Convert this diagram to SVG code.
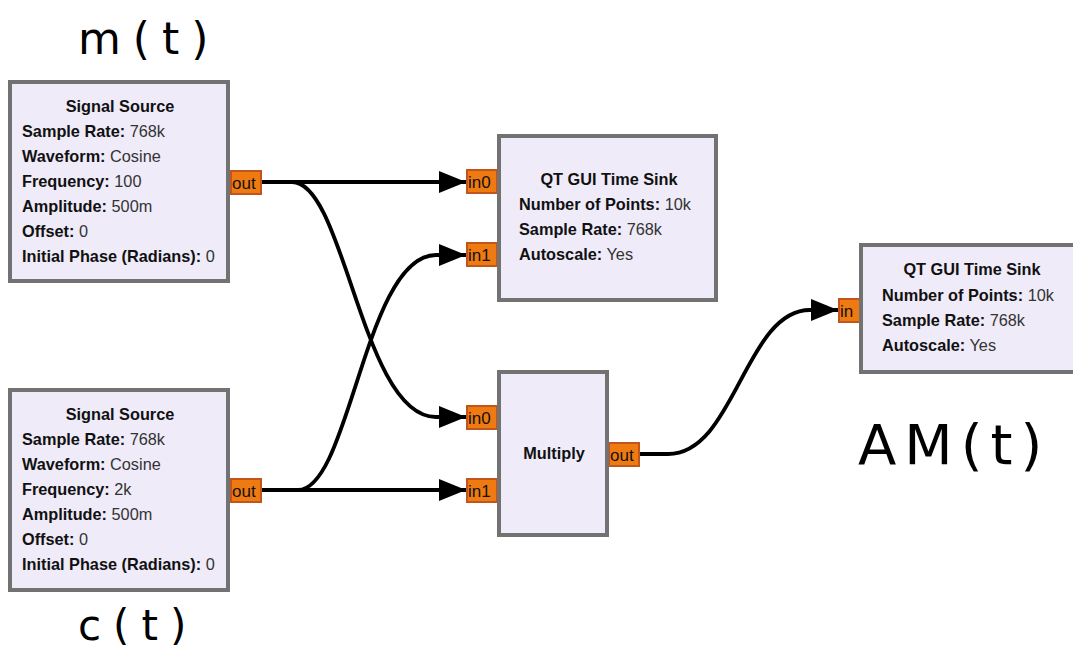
<svg xmlns="http://www.w3.org/2000/svg" width="1073" height="654" viewBox="0 0 1073 654">
<style>
.box{fill:#efebf9;stroke:#727272;stroke-width:4}
.port{fill:#f07a12;stroke:#c0561c;stroke-width:2}
.t{font-family:"Liberation Sans",Arial,sans-serif;font-size:16.3px;fill:#333}
.b{font-weight:bold;fill:#111}
.pt{font-family:"Liberation Sans",Arial,sans-serif;font-size:17px;fill:#111}
.hw{font-family:"DejaVu Sans","Liberation Sans",sans-serif;fill:#000}
.wire{fill:none;stroke:#000;stroke-width:3.8}
</style>
<defs>
<marker id="arr" markerUnits="userSpaceOnUse" markerWidth="27" markerHeight="22" refX="27" refY="11" orient="auto">
<path d="M0,0 L27,11 L0,22 z" fill="#000"/>
</marker>
</defs>
<g id="connectors">
<path class="wire" d="M261,182 L466,182" marker-end="url(#arr)"/>
<path class="wire" d="M261,182 L292,182 C345,182 362,417 436,417 L466,417" marker-end="url(#arr)"/>
<path class="wire" d="M261,490 L298,490 C350,490 365,255 436,255 L466,255" marker-end="url(#arr)"/>
<path class="wire" d="M261,490 L466,490" marker-end="url(#arr)"/>
<path class="wire" d="M640,454 L668,454 C735,454 745,310 810,310 L838,310" marker-end="url(#arr)"/>
</g>
<g id="src1">
<rect class="port" x="231" y="171" width="30" height="23"/>
<text class="pt" x="232" y="189">out</text>
<rect class="box" x="10" y="82" width="218" height="199"/>
<text class="t b" x="120" y="112" text-anchor="middle">Signal Source</text>
<text class="t" x="22" y="137"><tspan class="b">Sample Rate:</tspan> 768k</text>
<text class="t" x="22" y="162"><tspan class="b">Waveform:</tspan> Cosine</text>
<text class="t" x="22" y="187"><tspan class="b">Frequency:</tspan> 100</text>
<text class="t" x="22" y="212"><tspan class="b">Amplitude:</tspan> 500m</text>
<text class="t" x="22" y="237"><tspan class="b">Offset:</tspan> 0</text>
<text class="t" x="22" y="262"><tspan class="b">Initial Phase (Radians):</tspan> 0</text>
</g>
<g id="src2">
<rect class="port" x="231" y="479" width="30" height="23"/>
<text class="pt" x="232" y="497">out</text>
<rect class="box" x="10" y="390" width="218" height="200"/>
<text class="t b" x="120" y="420" text-anchor="middle">Signal Source</text>
<text class="t" x="22" y="445"><tspan class="b">Sample Rate:</tspan> 768k</text>
<text class="t" x="22" y="470"><tspan class="b">Waveform:</tspan> Cosine</text>
<text class="t" x="22" y="495"><tspan class="b">Frequency:</tspan> 2k</text>
<text class="t" x="22" y="520"><tspan class="b">Amplitude:</tspan> 500m</text>
<text class="t" x="22" y="545"><tspan class="b">Offset:</tspan> 0</text>
<text class="t" x="22" y="570"><tspan class="b">Initial Phase (Radians):</tspan> 0</text>
</g>
<g id="sink1">
<rect class="port" x="467" y="170" width="30" height="23"/>
<text class="pt" x="468" y="188">in0</text>
<rect class="port" x="467" y="243" width="30" height="23"/>
<text class="pt" x="468" y="261">in1</text>
<rect class="box" x="499" y="136" width="217" height="164"/>
<text class="t b" x="609" y="185" text-anchor="middle">QT GUI Time Sink</text>
<text class="t" x="519" y="210"><tspan class="b">Number of Points:</tspan> 10k</text>
<text class="t" x="519" y="235"><tspan class="b">Sample Rate:</tspan> 768k</text>
<text class="t" x="519" y="260"><tspan class="b">Autoscale:</tspan> Yes</text>
</g>
<g id="multiply">
<rect class="port" x="467" y="406" width="30" height="23"/>
<text class="pt" x="468" y="424">in0</text>
<rect class="port" x="467" y="479" width="30" height="23"/>
<text class="pt" x="468" y="497">in1</text>
<rect class="port" x="609" y="443" width="30" height="23"/>
<text class="pt" x="610" y="461">out</text>
<rect class="box" x="499" y="372" width="108" height="163"/>
<text class="t b" x="554" y="459" text-anchor="middle">Multiply</text>
</g>
<g id="sink2">
<rect class="port" x="839" y="299" width="30" height="23"/>
<text class="pt" x="840" y="317">in</text>
<rect class="box" x="861" y="245" width="220" height="127"/>
<text class="t b" x="972" y="275" text-anchor="middle">QT GUI Time Sink</text>
<text class="t" x="882" y="301"><tspan class="b">Number of Points:</tspan> 10k</text>
<text class="t" x="882" y="326"><tspan class="b">Sample Rate:</tspan> 768k</text>
<text class="t" x="882" y="351"><tspan class="b">Autoscale:</tspan> Yes</text>
</g>
<g id="labels">
<text class="hw" x="78" y="54" font-size="44" letter-spacing="12">m(t)</text>
<text class="hw" x="78" y="640" font-size="42" letter-spacing="12">c(t)</text>
<text class="hw" x="858" y="464" font-size="56" letter-spacing="8">AM(t)</text>
</g>
</svg>
